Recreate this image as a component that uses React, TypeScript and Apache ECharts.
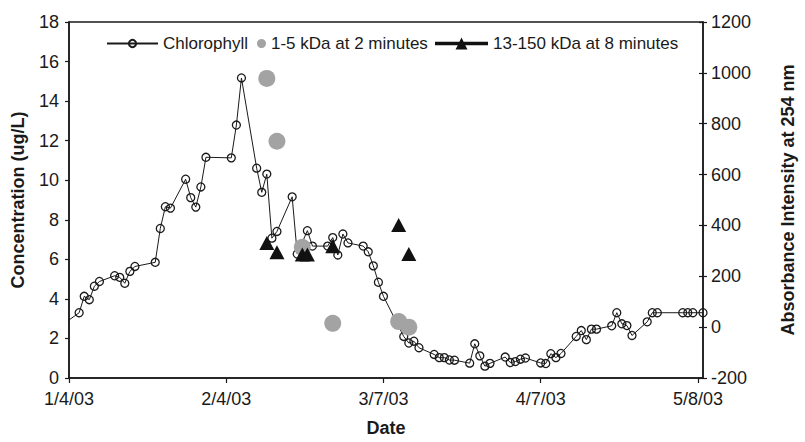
import React, { useEffect, useRef } from "react";
import * as echarts from "echarts";

// Chlorophyll concentration (ug/L), left axis
const chlDates = [
  "2003-01-03", "2003-01-06", "2003-01-07", "2003-01-08", "2003-01-09", "2003-01-10",
  "2003-01-13", "2003-01-14", "2003-01-15", "2003-01-16", "2003-01-17",
  "2003-01-21", "2003-01-22", "2003-01-23", "2003-01-24",
  "2003-01-27", "2003-01-28", "2003-01-29", "2003-01-30", "2003-01-31",
  "2003-02-05", "2003-02-06", "2003-02-07",
  "2003-02-10", "2003-02-11", "2003-02-12", "2003-02-13", "2003-02-14",
  "2003-02-17", "2003-02-18", "2003-02-20", "2003-02-21",
  "2003-02-24", "2003-02-25", "2003-02-26", "2003-02-27", "2003-02-28",
  "2003-03-03", "2003-03-04", "2003-03-05", "2003-03-06", "2003-03-07",
  "2003-03-11", "2003-03-12", "2003-03-13", "2003-03-14",
  "2003-03-17", "2003-03-18", "2003-03-19", "2003-03-20", "2003-03-21",
  "2003-03-24", "2003-03-25", "2003-03-26", "2003-03-27", "2003-03-28",
  "2003-03-31", "2003-04-01", "2003-04-02", "2003-04-03", "2003-04-04",
  "2003-04-07", "2003-04-08", "2003-04-09", "2003-04-10", "2003-04-11",
  "2003-04-14", "2003-04-15", "2003-04-16", "2003-04-17", "2003-04-18",
  "2003-04-21", "2003-04-22", "2003-04-23", "2003-04-24", "2003-04-25",
  "2003-04-28", "2003-04-29", "2003-04-30",
  "2003-05-05", "2003-05-06", "2003-05-07", "2003-05-09",
];
const chlValues = [
  2.75, 3.3, 4.13, 3.96, 4.64, 4.88,
  5.17, 5.09, 4.79, 5.39, 5.64,
  5.85, 7.56, 8.66, 8.59,
  10.05, 9.12, 8.64, 9.66, 11.16,
  11.13, 12.79, 15.17,
  10.61, 9.39, 10.31, 7.07, 7.41,
  9.16, 6.27, 7.45, 6.67,
  6.67, 7.1, 6.22, 7.28, 6.83,
  6.67, 6.38, 5.67, 4.84, 4.13,
  2.1, 1.77, 1.86, 1.53,
  1.19, 1.03, 1.03, 0.91, 0.9,
  0.75, 1.73, 1.12, 0.6, 0.74,
  1.06, 0.78, 0.83, 0.95, 1.01,
  0.76, 0.73, 1.23, 1.03, 1.24,
  2.1, 2.4, 1.94, 2.47, 2.47,
  2.64, 3.3, 2.74, 2.65, 2.15,
  2.84, 3.3, 3.3,
  3.3, 3.3, 3.3, 3.3,
];

// 1-5 kDa at 2 minutes, absorbance (right axis)
const smallDates = ["2003-02-12", "2003-02-14", "2003-02-19", "2003-02-25", "2003-03-10", "2003-03-12"];
const smallValues = [978, 731, 314, 15, 22, 0];

// 13-150 kDa at 8 minutes, absorbance (right axis)
const largeDates = ["2003-02-12", "2003-02-14", "2003-02-19", "2003-02-20", "2003-02-25", "2003-03-10", "2003-03-12"];
const largeValues = [331, 295, 286, 286, 318, 402, 288];

// X axis: days from 1/4/03; tick dates
const startDate = "2003-01-04";
const tickDates = ["2003-01-04", "2003-02-04", "2003-03-07", "2003-04-07", "2003-05-08"];
const endDate = "2003-05-09";

const leftTicks = { min: 0, max: 18, interval: 2 };
const rightTicks = { min: -200, max: 1200, interval: 200 };

const FONT = "'Liberation Sans', Arial, Helvetica, sans-serif";
const DAY = 86400000;

function utc(s: string) {
  const [y, m, d] = s.split("-").map(Number);
  return Date.UTC(y, m - 1, d);
}
const base = utc(startDate);
const toDay = (s: string) => Math.round((utc(s) - base) / DAY);
const fmtDay = (v: number) => {
  const dt = new Date(base + v * DAY);
  return `${dt.getUTCMonth() + 1}/${dt.getUTCDate()}/${String(dt.getUTCFullYear()).slice(2)}`;
};

const triIcon =
  "path://M0,4.3H24.4L26.5,0L28.6,4.3H53V7.7H30.25L32.5,12H20.5L22.75,7.7H0Z";

export default function App() {
  const ref = useRef<HTMLDivElement>(null);
  useEffect(() => {
    if (!ref.current) return;
    const chart = echarts.init(ref.current, undefined, { renderer: "svg" });
    const tickDays = tickDates.map(toDay);
    const axisLine = { show: true, lineStyle: { color: "#1a1a1a", width: 1.5 } };
    const legendText = { fontSize: 17, color: "#1a1a1a", fontFamily: FONT };
    chart.setOption({
      animation: false,
      backgroundColor: "#ffffff",
      grid: {
        left: 69,
        right: 91,
        top: 22,
        bottom: 58,
        show: true,
        borderColor: "#1a1a1a",
        borderWidth: 1.5,
        backgroundColor: "transparent",
      },
      legend: [
        {
          data: [{ name: "Chlorophyll" }],
          left: 106,
          top: 35,
          padding: 0,
          itemWidth: 51,
          itemHeight: 9,
          textStyle: legendText,
        },
        {
          data: [{ name: "1-5 kDa at 2 minutes", icon: "circle" }],
          left: 257,
          top: 35,
          padding: 0,
          itemWidth: 9,
          itemHeight: 9,
          textStyle: legendText,
        },
        {
          data: [{ name: "13-150 kDa at 8 minutes", icon: triIcon }],
          left: 435,
          top: 35,
          padding: 0,
          itemWidth: 53,
          itemHeight: 12,
          textStyle: legendText,
        },
      ],
      xAxis: {
        type: "value",
        min: 0,
        max: toDay(endDate),
        name: "Date",
        nameLocation: "middle",
        nameGap: 41,
        nameTextStyle: { fontSize: 18, fontWeight: "bold", color: "#1a1a1a", fontFamily: FONT },
        axisLine,
        axisTick: { show: true, length: 5, lineStyle: { color: "#1a1a1a", width: 1.2 }, customValues: tickDays },
        axisLabel: {
          fontSize: 18,
          color: "#1a1a1a",
          fontFamily: FONT,
          margin: 12,
          customValues: tickDays,
          formatter: (v: number) => fmtDay(v),
        },
        splitLine: { show: false },
      },
      yAxis: [
        {
          type: "value",
          position: "left",
          ...leftTicks,
          name: "Concentration (ug/L)",
          nameLocation: "middle",
          nameRotate: 90,
          nameGap: 42,
          nameTextStyle: { fontSize: 18, fontWeight: "bold", color: "#1a1a1a", fontFamily: FONT },
          axisLine,
          axisTick: { show: true, length: 4, lineStyle: { color: "#1a1a1a", width: 1.2 } },
          axisLabel: { fontSize: 18, color: "#1a1a1a", fontFamily: FONT, margin: 10, formatter: (v: number) => String(v) },
          splitLine: { show: false },
        },
        {
          type: "value",
          position: "right",
          ...rightTicks,
          name: "Absorbance Intensity at 254 nm",
          nameLocation: "middle",
          nameRotate: 90,
          nameGap: 76,
          nameTextStyle: { fontSize: 18, fontWeight: "bold", color: "#1a1a1a", fontFamily: FONT },
          axisLine,
          axisTick: { show: true, length: 4, lineStyle: { color: "#1a1a1a", width: 1.2 } },
          axisLabel: { fontSize: 18, color: "#1a1a1a", fontFamily: FONT, margin: 8, formatter: (v: number) => String(v) },
          splitLine: { show: false },
        },
        {
          // inner half of the right axis' crossing ticks
          type: "value",
          position: "right",
          ...rightTicks,
          axisLine: { show: false },
          axisTick: { show: true, inside: true, length: 4, lineStyle: { color: "#1a1a1a", width: 1.2 } },
          axisLabel: { show: false },
          splitLine: { show: false },
        },
      ],
      series: [
        {
          name: "Chlorophyll",
          type: "line",
          yAxisIndex: 0,
          data: chlDates.map((d, i) => [toDay(d), chlValues[i]]),
          symbol: "circle",
          symbolSize: 8,
          showSymbol: true,
          clip: true,
          lineStyle: { color: "#1a1a1a", width: 1 },
          itemStyle: { color: "rgba(255,255,255,0)", borderColor: "#1a1a1a", borderWidth: 1.3 },
          z: 2,
        },
        {
          name: "1-5 kDa at 2 minutes",
          type: "scatter",
          yAxisIndex: 1,
          data: smallDates.map((d, i) => [toDay(d), smallValues[i]]),
          symbol: "circle",
          symbolSize: 17,
          itemStyle: { color: "#a3a3a3", opacity: 1 },
          z: 3,
        },
        {
          name: "13-150 kDa at 8 minutes",
          type: "scatter",
          yAxisIndex: 1,
          data: largeDates.map((d, i) => [toDay(d), largeValues[i]]),
          symbol: "triangle",
          symbolSize: [15, 14],
          itemStyle: { color: "#111111", opacity: 1 },
          z: 4,
        },
      ],
    });
    return () => chart.dispose();
  }, []);
  return (
    <div
      ref={ref}
      style={{ position: "fixed", left: 0, top: 0, width: 805, height: 442, background: "#fff" }}
    />
  );
}
